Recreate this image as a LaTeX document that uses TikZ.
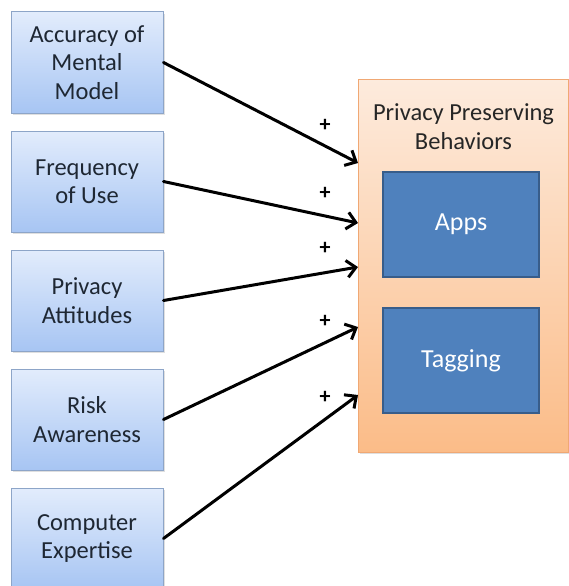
\documentclass[tikz,border=0pt]{standalone}
\usepackage{fontspec}
\setmainfont{Carlito}
\usetikzlibrary{arrows.meta,shadows}

\definecolor{factTop}{HTML}{E2ECFC}
\definecolor{factBot}{HTML}{A7C5F3}
\definecolor{factLine}{HTML}{8DA5C8}
\definecolor{behTop}{HTML}{FDEBDD}
\definecolor{behBot}{HTML}{FBBC88}
\definecolor{behLine}{HTML}{F0A874}
\definecolor{subFill}{HTML}{4F81BD}
\definecolor{subLine}{HTML}{385D8A}
\definecolor{txt}{HTML}{1E2733}

\tikzset{
  x=1pt, y=-1pt,
  factor/.style={draw=factLine, line width=1pt, top color=factTop, bottom color=factBot,
    minimum width=152pt, minimum height=101pt, inner sep=0pt, align=center,
    font=\fontsize{24.5}{28.5}\selectfont, text=txt,
    drop shadow={opacity=0.25, shadow xshift=1.5pt, shadow yshift=-2pt}},
  outcome/.style={draw=behLine, line width=1pt, top color=behTop, bottom color=behBot,
    minimum width=210pt, minimum height=373pt, inner sep=0pt,
    drop shadow={opacity=0.25, shadow xshift=1.5pt, shadow yshift=-2pt}},
  subbox/.style={draw=subLine, line width=1.2pt, fill=subFill,
    minimum width=156pt, minimum height=105pt, inner sep=0pt,
    font=\fontsize{26}{28}\selectfont, text=white},
  link/.style={line width=3pt, line cap=round, -{Straight Barb[length=9pt,width=17pt,line width=3pt]}},
  sign/.style={font=\fontsize{22}{22}\selectfont\bfseries, inner sep=0pt}
}

\begin{document}
\begin{tikzpicture}
\useasboundingbox[fill=white] (0,0) rectangle (569,586);

% influencing factors
\node[factor] (f1) at (87,62.5)  {Accuracy of\\Mental\\Model};
\node[factor] (f2) at (87,181.5) {Frequency\\of Use};
\node[factor] (f3) at (87,300.5) {Privacy\\Attitudes};
\node[factor] (f4) at (87,419.5) {Risk\\Awareness};
\node[factor] (f5) at (87,538.5) {Computer\\Expertise};

% behaviours
\node[outcome] (pp) at (463.5,265.5) {};
\node[font=\fontsize{24.5}{29}\selectfont, text=black!85, align=center]
  (ppt) at (463.5,126.5) {Privacy Preserving\\Behaviors};
\node[subbox] (apps) at (461,224.5) {Apps};
\node[subbox] (tag)  at (461,360.5) {Tagging};

% arrow targets on the left edge of the behaviour box
\coordinate (t1) at (pp.west |- 0,163);
\coordinate (t2) at (pp.west |- 0,223);
\coordinate (t3) at (pp.west |- 0,267);
\coordinate (t4) at (pp.west |- 0,327);
\coordinate (t5) at (pp.west |- 0,395);

\draw[link] (f1.east) -- (t1);
\draw[link] (f2.east) -- (t2);
\draw[link] (f3.east) -- (t3);
\draw[link] (f4.east) -- (t4);
\draw[link] (f5.east) -- (t5);

\node[sign] (s1) at (325,125) {+};
\node[sign] (s2) at (325,193) {+};
\node[sign] (s3) at (325,248) {+};
\node[sign] (s4) at (325,321) {+};
\node[sign] (s5) at (325,397) {+};
\end{tikzpicture}
\end{document}
